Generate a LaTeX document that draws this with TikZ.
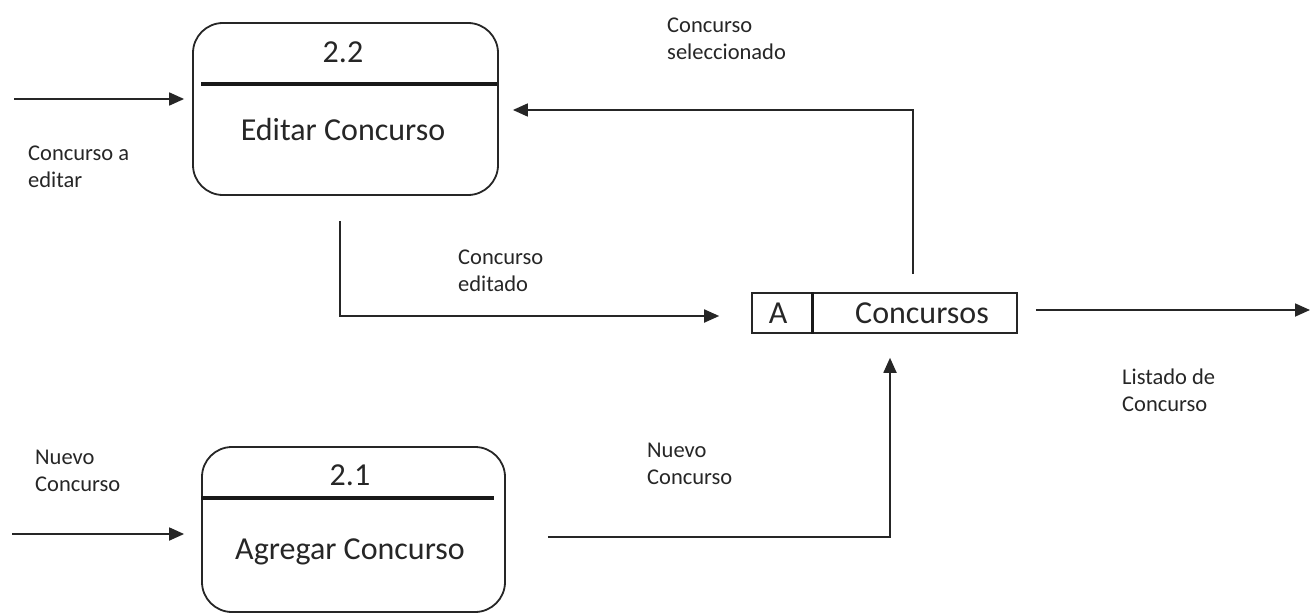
\documentclass[tikz,border=0pt]{standalone}
\usepackage{fontspec}
\setmainfont{Carlito}
\usetikzlibrary{arrows.meta,calc}

\tikzset{
  proc/.style={draw=black!85, line width=1.8pt, rounded corners=30pt, inner sep=0pt},
  store/.style={draw=black!85, line width=1.6pt, inner sep=0pt},
  divider/.style={line width=3.4pt, black!90},
  flow/.style={draw=black!85, line width=1.8pt, -{Triangle[length=15pt,width=13pt]}},
  bigtext/.style={inner sep=0pt, font=\fontsize{32}{38}\selectfont, text=black!85},
  lbl/.style={inner sep=0pt, anchor=west, align=left, font=\fontsize{22.5}{27}\selectfont, text=black!85}
}

\begin{document}
\begin{tikzpicture}[x=1pt, y=-1pt]
  \useasboundingbox (0,0) rectangle (1311,615);

  % process 2.2
  \node[proc, minimum width=305pt, minimum height=172pt] (p22) at (345.5,109) {};
  \draw[divider] ($(p22.north west)+(9,62)$) -- ($(p22.north east)+(-2,62)$);
  \node[bigtext] (n22) at (343,52) {2.2};
  \node[bigtext] (t22) at (343,130) {Editar Concurso};

  % process 2.1
  \node[proc, minimum width=303pt, minimum height=165pt] (p21) at (353.5,529.5) {};
  \draw[divider] ($(p21.north west)+(0,52)$) -- ($(p21.north east)+(-12,52)$);
  \node[bigtext] (n21) at (350,475) {2.1};
  \node[bigtext] (t21) at (350,552) {Agregar Concurso};

  % data store A
  \node[store, minimum width=265pt, minimum height=40pt] (st) at (884.5,313) {};
  \draw[divider, line width=3pt] (st.north west -| 812,0) -- (st.south west -| 812,0);
  \node[bigtext] (sa) at (778,313) {A};
  \node[bigtext] (sn) at (922,313) {Concursos};

  % free ends
  \coordinate (in22) at (14,99);
  \coordinate (in21) at (12,534);
  \coordinate (out) at (1310,310);

  % flows
  \draw[flow, shorten >=8pt] (in22) -- (in22 -| p22.west);
  \draw[flow, shorten >=17pt] (in21) -- (in21 -| p21.west);
  \draw[flow] ([xshift=-5.5pt,yshift=-25pt]p22.south) |- ([xshift=-32pt,yshift=-3pt]st.west);
  \draw[flow] ([xshift=28.5pt,yshift=18pt]st.north) |- ([xshift=14pt,yshift=-1pt]p22.east);
  \draw[flow] ([xshift=18pt,yshift=3pt]st.east) -- (out);
  \draw[flow] ([xshift=42pt,yshift=-7.5pt]p21.east) -| ([xshift=5.5pt,yshift=-24pt]st.south);

  % flow labels
  \node[lbl] (l1) at (28,166.5) {Concurso a\\editar};
  \node[lbl] (l2) at (35,471) {Nuevo\\Concurso};
  \node[lbl] (l3) at (458,271) {Concurso\\editado};
  \node[lbl] (l4) at (667,38.5) {Concurso\\seleccionado};
  \node[lbl] (l5) at (1122,390) {Listado de\\Concurso};
  \node[lbl] (l6) at (647,463.5) {Nuevo\\Concurso};
\end{tikzpicture}
\end{document}
